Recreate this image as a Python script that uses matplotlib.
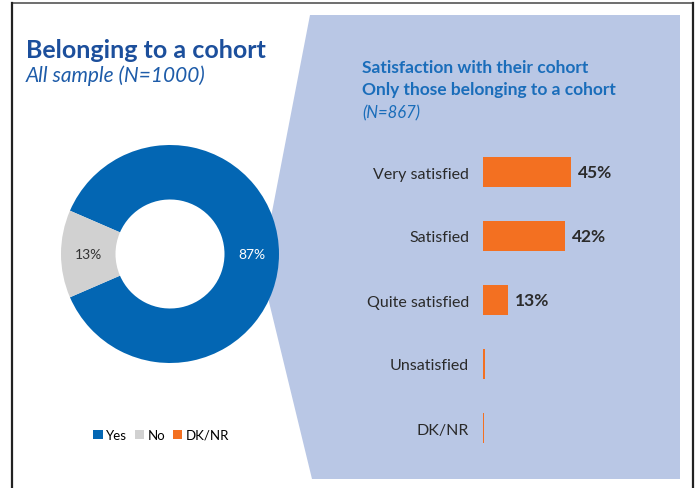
import matplotlib.pyplot as plt
from matplotlib.patches import Polygon, Patch

# Datos del gráfico de anillo (pertenencia a una cohorte)
pie_labels = ["Yes", "No", "DK/NR"]
pie_values = [87, 13, 0]
pie_colors = ["#0366B3", "#D1D1D1", "#F37021"]

# Datos de satisfacción (solo quienes pertenecen a una cohorte)
sat_labels = ["Very satisfied", "Satisfied", "Quite satisfied", "Unsatisfied", "DK/NR"]
sat_values = [45, 42, 13, 1.0, 0.5]
sat_text = ["45%", "42%", "13%", "", ""]

W, H = 695, 489
fig = plt.figure(figsize=(W / 100, H / 100), dpi=100)

# Capa de fondo en coordenadas de píxel
bg = fig.add_axes([0, 0, 1, 1])
bg.set_xlim(0, W)
bg.set_ylim(H, 0)
bg.axis("off")

# Panel azul claro detrás de las barras
bg.add_patch(Polygon([(310, 16), (680, 16), (680, 480), (312, 480), (261, 270)],
                     closed=True, facecolor="#B9C7E5", edgecolor="none", zorder=0))

# Marco
bg.plot([12, 693], [4, 4], color="#555555", lw=1.2)
bg.plot([12, 12], [4, H], color="#222222", lw=1.6)
bg.plot([693, 693], [4, H], color="#222222", lw=1.6)

font_main = ["Lato", "DejaVu Sans"]

bg.text(26, 51, "Belonging to a cohort", fontsize=18, fontweight="bold",
        color="#1C4F9C", va="center", family=font_main)
bg.text(26, 76, "All sample (N=1000)", fontsize=15, style="italic",
        color="#1E5CA9", va="center", family=font_main)

bg.text(362, 68, "Satisfaction with their cohort", fontsize=12.5, fontweight="bold",
        color="#1A6DBA", va="center", family=font_main)
bg.text(362, 90, "Only those belonging to a cohort", fontsize=12.5, fontweight="bold",
        color="#1A6DBA", va="center", family=font_main)
bg.text(362, 113, "(N=867)", fontsize=12, style="italic",
        color="#1A6DBA", va="center", family=font_main)

# Gráfico de anillo
cx, cy, r = 170, 255, 109
ax_pie = fig.add_axes([(cx - r) / W, (H - cy - r) / H, 2 * r / W, 2 * r / H])
vals = [v for v in pie_values if v > 0]
cols = [c for v, c in zip(pie_values, pie_colors) if v > 0]
wedges, texts, autotexts = ax_pie.pie(
    vals, colors=cols, startangle=-156.6, counterclock=True, radius=1,
    wedgeprops=dict(width=0.5, edgecolor="none"),
    autopct=lambda p: f"{p:.0f}%", pctdistance=0.75)
for t, c in zip(autotexts, ["white", "#333333"]):
    t.set_color(c)
    t.set_fontsize(10)
    t.set_family(font_main)
ax_pie.set_xlim(-1, 1)
ax_pie.set_ylim(-1, 1)
ax_pie.set_aspect("equal")

handles = [Patch(facecolor=c, edgecolor="none") for c in pie_colors]
fig.legend(handles, pie_labels, loc="center", bbox_to_anchor=(161 / W, 1 - 436 / H),
           ncol=3, frameon=False, handlelength=0.7, handleheight=0.7,
           handletextpad=0.25, columnspacing=0.6,
           prop={"family": font_main, "size": 9.5})

# Barras horizontales de satisfacción
x0, ppu = 483, 1.95
top, step = 173, 64
y_top = top - step / 2
y_bot = top + step * (len(sat_labels) - 1) + step / 2
ax_bar = fig.add_axes([x0 / W, (H - y_bot) / H, 100 * ppu / W, (y_bot - y_top) / H])
pos = list(range(len(sat_labels)))
ax_bar.barh(pos, sat_values, height=0.48, color="#F37021")
ax_bar.set_xlim(0, 100)
ax_bar.set_ylim(len(sat_labels) - 0.5, -0.5)
ax_bar.set_yticks(pos)
ax_bar.set_yticklabels(sat_labels, fontsize=11.5, color="#2A2A2A", family=font_main)
ax_bar.tick_params(axis="y", length=0, pad=10)
ax_bar.set_xticks([])
for s in ax_bar.spines.values():
    s.set_visible(False)
ax_bar.patch.set_visible(False)
for i, (v, t) in enumerate(zip(sat_values, sat_text)):
    if t:
        ax_bar.text(v + 3.5, i, t, va="center", ha="left", fontsize=12.5,
                    fontweight="bold", color="#2B2B2B", family=font_main)

fig.savefig("out.png", dpi=100)
